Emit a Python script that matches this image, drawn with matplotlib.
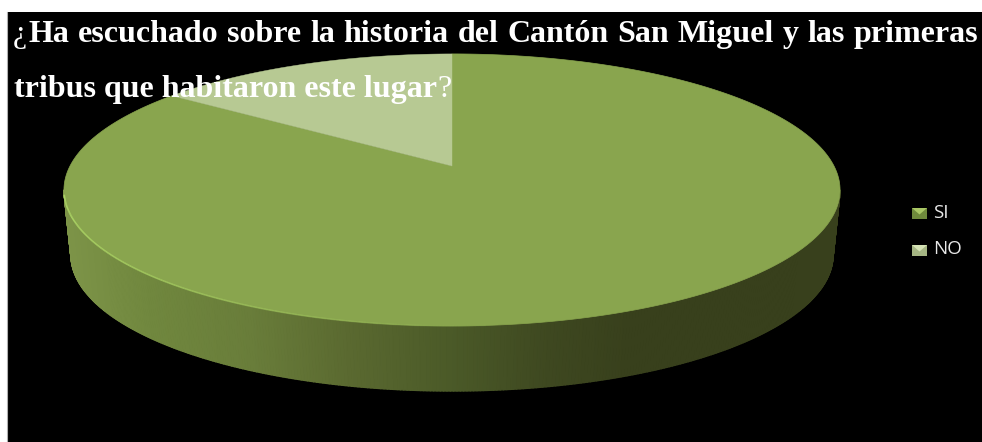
import numpy as np
import matplotlib
matplotlib.use("Agg")
import matplotlib.pyplot as plt
from matplotlib.collections import PolyCollection, LineCollection
from matplotlib.patches import Rectangle, Polygon

categories = ["SI", "NO"]
values = [85, 15]
line1_words = ["Ha", "escuchado", "sobre", "la", "historia", "del", "Cantón", "San", "Miguel", "y", "las", "primeras"]
line2_text = "tribus que habitaron este lugar"

top_color = "#89a54e"
no_color = "#b7c993"
legend_colors = [("#6f8a3c", "#a9c765"), ("#a5b583", "#d5e2b5")]

# side shade from left to right
shade_x = [64, 150, 250, 350, 450, 550, 630, 840]
shade_r = [125, 112, 105, 90, 75, 62, 56, 56]
shade_g = [148, 135, 125, 105, 90, 72, 64, 64]
shade_b = [72, 62, 58, 48, 40, 32, 28, 28]

W, H = 982, 442
fig = plt.figure(figsize=(W / 100, H / 100), dpi=100, facecolor="white")
ax = fig.add_axes([0, 0, 1, 1])
ax.set_xlim(0, W)
ax.set_ylim(H, 0)
ax.axis("off")

ax.add_patch(Rectangle((7, 12), W - 7, H - 12, fc="black", ec="none", zorder=0))
ax.plot([7.5, 7.5], [12, H], color="#b0b0b0", lw=0.8, zorder=0.5)


def project(x, y):
    # the 3D pie is drawn with perspective, so the apex sits above the ellipse middle
    w = 1 + 0.176 * y
    return 452 + 382 * x / w, 166 - 131.8 * y / w


def circle_part(start, stop, n=300):
    a = np.radians(np.linspace(start, stop, n))
    return project(np.cos(a), np.sin(a))


# side of the disc
t = np.radians(np.linspace(180, 360, 360))
tx = 452 + 388 * np.cos(t)
ty = 190 - 136 * np.sin(t)
bx = 452 + 381 * np.cos(t)
by = 255 - 136 * np.sin(t)
quads = []
cols = []
for i in range(len(t) - 1):
    quads.append([(tx[i], ty[i]), (tx[i + 1], ty[i + 1]), (bx[i + 1], by[i + 1]), (bx[i], by[i])])
    mid = (tx[i] + tx[i + 1]) / 2
    cols.append((np.interp(mid, shade_x, shade_r) / 255,
                 np.interp(mid, shade_x, shade_g) / 255,
                 np.interp(mid, shade_x, shade_b) / 255))
ax.add_collection(PolyCollection(quads, facecolors=cols, edgecolors=cols, linewidths=1.0, zorder=1))

# top face, slices start at 12 o'clock going anticlockwise
fracs = np.array(values) / sum(values)
no_start = 90
no_stop = 90 + fracs[1] * 360
si_x, si_y = circle_part(no_stop, 360 + no_start)
no_x, no_y = circle_part(no_start, no_stop)
cx, cy = project(0, 0)
ax.add_patch(Polygon(list(zip([cx, *si_x], [cy, *si_y])), closed=True, fc=top_color, ec=top_color, lw=0.5, zorder=2))
ax.add_patch(Polygon(list(zip([cx, *no_x], [cy, *no_y])), closed=True, fc=no_color, ec=no_color, lw=0.3, zorder=3))

# bright rim on the left part of the front edge
rim_a = np.radians(np.linspace(182, 275, 200))
rim_x = 452 + 388 * np.cos(rim_a)
rim_y = 190 - 136 * np.sin(rim_a)
segs = [[(rim_x[i], rim_y[i]), (rim_x[i + 1], rim_y[i + 1])] for i in range(len(rim_a) - 1)]
alphas = np.linspace(1, 0.1, len(segs))
ax.add_collection(LineCollection(segs, colors=[(0.68, 0.84, 0.40, al) for al in alphas], linewidths=1.2, zorder=4))

# title, first line is justified to the full width, the opening sign is not bold
font = dict(family="Liberation Serif", fontsize=23, color="white", zorder=6)
fig.canvas.draw()
rend = fig.canvas.get_renderer()
opening = ax.text(13, 42, "¿", **font)
start = opening.get_window_extent(rend).x1 + 1
texts = [ax.text(0, 42, word, fontweight="bold", **font) for word in line1_words]
widths = [tx_.get_window_extent(rend).width for tx_ in texts]
gap = (978 - start - sum(widths)) / (len(texts) - 1)
pos = start
for tx_, wd in zip(texts, widths):
    tx_.set_x(pos)
    pos += wd + gap

line2 = ax.text(14, 97, line2_text, fontweight="bold", **font)
ax.text(line2.get_window_extent(rend).x1, 97, "?", **font)

# legend
legend_y = [213.5, 250.5]
for name, yy, (base, light) in zip(categories, legend_y, legend_colors):
    ax.add_patch(Rectangle((912, yy - 5.5), 15, 11, fc=base, ec="none", zorder=5))
    ax.add_patch(Polygon([(912, yy - 5.5), (927, yy - 5.5), (919.5, yy + 1)], closed=True, fc=light, ec="none", zorder=6))
    ax.text(933, yy - 1, name, family="Open Sans", fontsize=13.5, color="#e8e8e8", va="center", ha="left", zorder=6)

fig.savefig("out.png", dpi=100, facecolor="white")
